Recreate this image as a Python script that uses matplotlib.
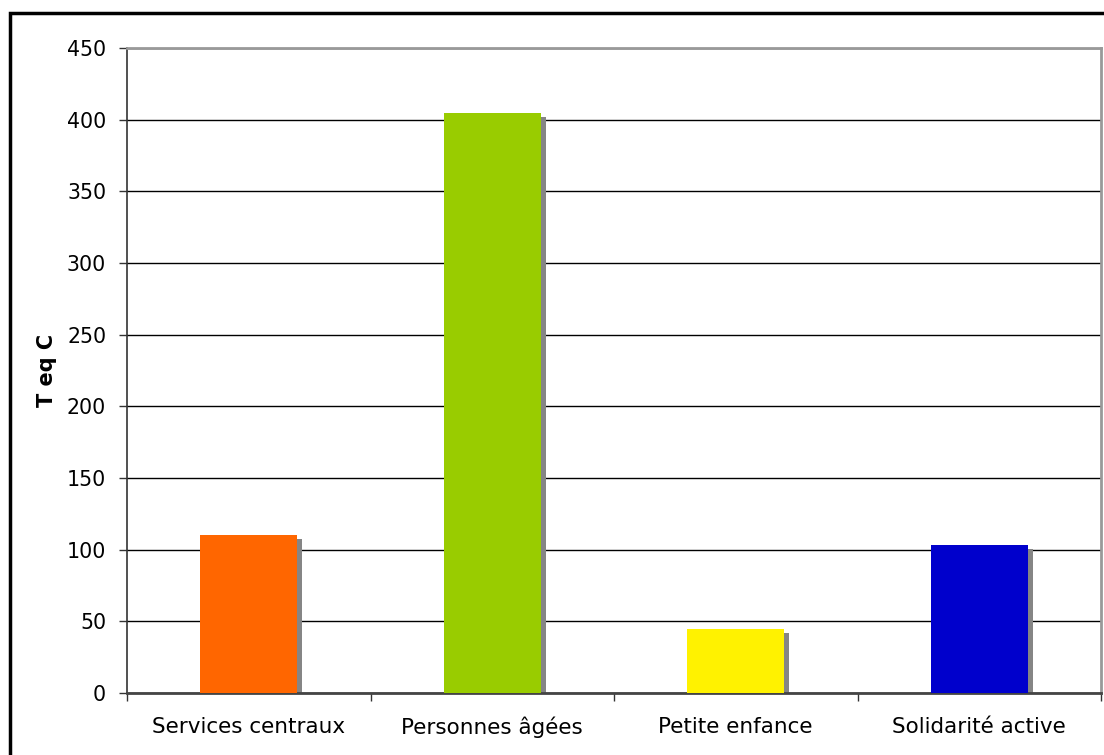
import matplotlib
matplotlib.use("Agg")
import matplotlib.pyplot as plt
import matplotlib.transforms as mtransforms
from matplotlib.patches import Rectangle

categories = ["Services centraux", "Personnes âgées", "Petite enfance", "Solidarité active"]
values = [110, 405, 45, 103]
colors = ["#FF6600", "#99CC00", "#FFF200", "#0000CC"]
yticks = [0, 50, 100, 150, 200, 250, 300, 350, 400, 450]

plt.rcParams["font.family"] = ["DejaVu Sans"]

W, H = 1104, 755
fig = plt.figure(figsize=(W / 100, H / 100), dpi=100)
ax = fig.add_axes([127 / W, (H - 693) / H, 974 / W, 645 / H])

x = list(range(len(categories)))
bw = 0.4

# drop shadow behind each bar
shadow_tr = ax.transData + mtransforms.ScaledTranslation(5 / 100, -4 / 100, fig.dpi_scale_trans)
ax.bar(x, values, width=bw, color="#858585", zorder=2, transform=shadow_tr)
ax.bar(x, values, width=bw, color=colors, zorder=3)

ax.set_xlim(-0.5, 3.5)
ax.set_ylim(0, 450)
ax.set_yticks(yticks)
ax.yaxis.grid(True, color="black", linewidth=1.0, zorder=0)
ax.set_axisbelow(True)

ax.set_xticks(x)
ax.set_xticklabels(categories, fontsize=15.5)
ax.set_xticks([-0.5, 0.5, 1.5, 2.5, 3.5], minor=True)
ax.tick_params(axis="x", which="major", length=0, pad=17)
ax.tick_params(axis="x", which="minor", length=6, width=1, color="#333333")
ax.tick_params(axis="y", labelsize=14.8, length=6, width=1, pad=9, color="#333333")

ax.set_ylabel("T eq C", fontsize=15, fontweight="bold", labelpad=7)

for side in ("top", "right"):
    ax.spines[side].set_color("#999999")
    ax.spines[side].set_linewidth(2)
ax.spines["left"].set_color("#333333")
ax.spines["left"].set_linewidth(1.2)
ax.spines["bottom"].set_color("#444444")
ax.spines["bottom"].set_linewidth(2)

# outer frame of the chart area
fig.patches.append(Rectangle((10 / W, -0.05), 1.2, (H - 13) / H + 0.05,
                             transform=fig.transFigure, fill=False,
                             edgecolor="black", linewidth=2.5))

fig.savefig("out.png", dpi=100)
